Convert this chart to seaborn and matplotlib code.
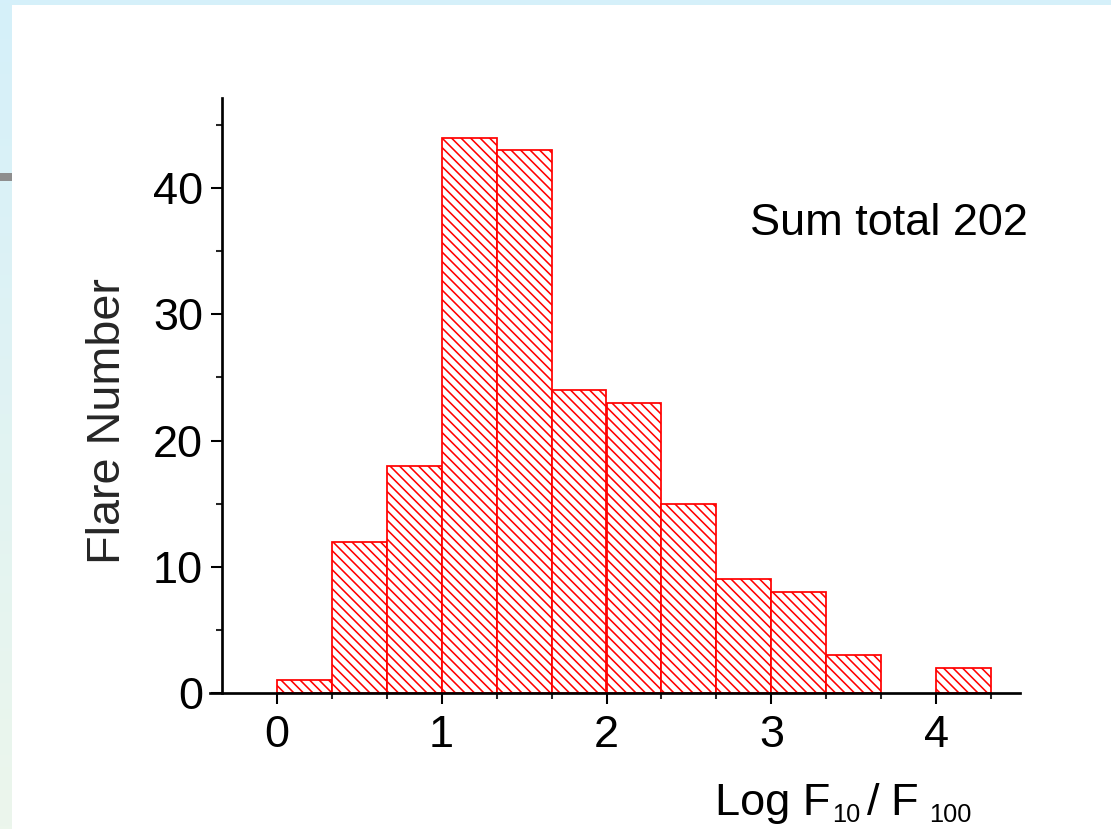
import numpy as np
import matplotlib
matplotlib.use("Agg")
import matplotlib.pyplot as plt
from matplotlib.patches import Rectangle
from matplotlib.ticker import FixedLocator
import seaborn as sns

# ---- data ----
bin_edges = [0, 1/3, 2/3, 1, 4/3, 5/3, 2, 7/3, 8/3, 3, 10/3, 11/3, 4, 13/3]
counts = [1, 12, 18, 44, 43, 24, 23, 15, 9, 8, 3, 0, 2]
x_tick_labels = ["0", "1", "2", "3", "4"]
y_ticks = [0, 10, 20, 30, 40]
annotation = "Sum total 202"
x_label_parts = ["Log F", "10", "/", "F", "100"]
y_label = "Flare Number"

centers = [(a + b) / 2 for a, b in zip(bin_edges[:-1], bin_edges[1:])]

sns.set_style("ticks")
plt.rcParams["font.family"] = ["Liberation Sans", "DejaVu Sans"]
plt.rcParams["hatch.linewidth"] = 1.0

DPI = 114
W, H = 1111, 829
fig = plt.figure(figsize=(W / DPI, H / DPI), dpi=DPI)

# background: gradient strip + white panel
bg = fig.add_axes([0, 0, 1, 1], zorder=-10)
top = np.array([0xd5, 0xf0, 0xfa]) / 255
bot = np.array([0xec, 0xf6, 0xec]) / 255
t = np.linspace(0, 1, 256)[:, None]
grad = top[None, :] * (1 - t) + bot[None, :] * t
bg.imshow(grad[:, None, :], aspect="auto", extent=[0, 1, 0, 1], origin="upper")
bg.add_patch(Rectangle((12 / W, 0), 1, (H - 5) / H, color="white", lw=0))
bg.add_patch(Rectangle((0, 1 - 181 / H), 12 / W, 8 / H, color="#8e8e8e", lw=0))
bg.set_xlim(0, 1)
bg.set_ylim(0, 1)
bg.axis("off")

# main axes: x-axis line spans 210..1020 px, y from 98..693 px
ax = fig.add_axes([210 / W, 1 - 693 / H, 810 / W, 595 / H])
ax.set_facecolor("none")

x0_px, unit_px = 276.7, 164.9
ax.set_xlim((210 - x0_px) / unit_px, (1020 - x0_px) / unit_px)
ax.set_ylim(0, 47.14)

sns.histplot(x=centers, weights=counts, bins=bin_edges, ax=ax,
             fill=True, color="white", edgecolor="#ff0000",
             linewidth=1.1, hatch="\\\\\\\\", alpha=1.0)
for p in ax.patches:
    if p.get_height() == 0:
        p.set_visible(False)

for side in ["top", "right"]:
    ax.spines[side].set_visible(False)
ax.spines["left"].set_position(("data", -1 / 3))
for side in ["left", "bottom"]:
    ax.spines[side].set_linewidth(1.7)
    ax.spines[side].set_color("black")
    ax.spines[side].set_zorder(5)

ax.xaxis.set_major_locator(FixedLocator([0, 1, 2, 3, 4]))
ax.set_xticklabels(x_tick_labels)
ax.xaxis.set_minor_locator(FixedLocator([k / 3 for k in range(1, 14) if k % 3 != 0]))
ax.yaxis.set_major_locator(FixedLocator(y_ticks))
ax.yaxis.set_minor_locator(FixedLocator([5, 15, 25, 35, 45]))

ax.tick_params(which="major", length=6.9, width=1.3, direction="out",
               labelsize=28.5, colors="black")
ax.tick_params(which="minor", length=3.8, width=1.3, direction="out")
ax.tick_params(axis="x", which="major", pad=7)
ax.tick_params(axis="y", which="major", pad=5)

ax.set_ylabel(y_label, fontsize=29.5)
ax.yaxis.set_label_coords((108 - 210) / 810, (693 - 421.5) / 595)
ax.yaxis.label.set_va("center")
ax.yaxis.label.set_ha("center")

# x label built from main text and subscripts (pixel positions from reference)
ax.set_xlabel("")
main_base = 1 - 815 / H
sub_base = 1 - 822 / H
label_x = [715, 832, 867, 890, 929]
label_size = [28.5, 16, 28.5, 28.5, 16]
label_base = [main_base, sub_base, main_base, main_base, sub_base]
for txt, px, fs, yb in zip(x_label_parts, label_x, label_size, label_base):
    fig.text(px / W, yb, txt, fontsize=fs, ha="left", va="baseline", color="black")

ax.text((750 - 210) / 810, (693 - 235) / 595, annotation, transform=ax.transAxes,
        fontsize=28.5, ha="left", va="baseline", color="black")

fig.savefig("out.png", dpi=DPI)
